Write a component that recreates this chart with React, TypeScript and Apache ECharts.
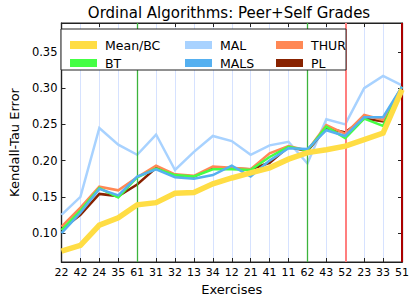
import React, { useEffect, useRef } from "react";
import * as echarts from "echarts";

const categories = ["22","42","24","35","61","31","32","13","34","12","21","41","11","62","43","52","23","33","51"];
const meanBC = [0.075,0.083,0.111,0.121,0.139,0.142,0.155,0.156,0.168,0.176,0.183,0.190,0.202,0.211,0.215,0.220,0.229,0.238,0.298];
const bt = [0.104,0.131,0.162,0.149,0.177,0.189,0.180,0.178,0.188,0.188,0.187,0.205,0.219,0.214,0.247,0.231,0.258,0.248,0.302];
const mal = [0.125,0.150,0.245,0.222,0.208,0.236,0.187,0.212,0.234,0.227,0.208,0.221,0.226,0.196,0.257,0.250,0.300,0.317,0.304];
const mals = [0.100,0.128,0.161,0.152,0.178,0.188,0.177,0.175,0.180,0.193,0.178,0.200,0.217,0.216,0.242,0.234,0.260,0.260,0.302];
const thur = [0.109,0.135,0.164,0.159,0.177,0.193,0.181,0.179,0.192,0.190,0.188,0.210,0.220,0.214,0.249,0.237,0.263,0.256,0.302];
const pl = [0.105,0.125,0.154,0.151,0.167,0.190,0.180,0.178,0.190,0.189,0.188,0.197,0.219,0.213,0.245,0.239,0.258,0.254,0.302];
const markers = [
  { x: "61", color: "#3cb43c", width: 1.3 },
  { x: "62", color: "#3cb43c", width: 1.3 },
  { x: "52", color: "#ff7f7f", width: 2 },
  { x: "51", color: "#aa0000", width: 2 },
];

const FONT = "DejaVu Sans";

export default function App() {
  const ref = useRef<HTMLDivElement>(null);
  useEffect(() => {
    document.body.style.margin = "0";
    const chart = echarts.init(ref.current!, undefined, { renderer: "svg" });
    const mk = (name: string, data: number[], color: string, width: number, z: number, extra: any = {}) => ({
      name, type: "line", data, color, symbol: "none", z,
      lineStyle: { color, width, join: "miter" }, ...extra,
    });
    const legendCommon = {
      orient: "vertical",
      icon: "rect",
      itemWidth: 27,
      itemHeight: 8,
      itemGap: 4,
      top: 33,
      z: 10,
      textStyle: { fontFamily: FONT, fontSize: 12.5, color: "#000", lineHeight: 14, padding: [0, 0, 0, 3] },
    };
    chart.setOption({
      animation: false,
      backgroundColor: "#fff",
      textStyle: { fontFamily: FONT },
      title: {
        text: "Ordinal Algorithms: Peer+Self Grades",
        left: 229, top: 5, padding: 0, textAlign: "center",
        textStyle: { fontFamily: FONT, fontSize: 15, fontWeight: "normal", color: "#000" },
      },
      grid: { left: 55, right: 14, top: 23, bottom: 40, show: true, borderColor: "#222", borderWidth: 1.2, backgroundColor: "transparent" },
      graphic: [
        { type: "rect", shape: { x: 61, y: 29, width: 285, height: 41 }, style: { fill: "#fff", stroke: "#222", lineWidth: 1 }, z: 9 },
      ],
      legend: [
        { ...legendCommon, left: 65, data: ["Mean/BC", "BT"] },
        { ...legendCommon, left: 180, data: ["MAL", "MALS"] },
        { ...legendCommon, left: 271, data: ["THUR", "PL"] },
      ],
      xAxis: [
        {
          type: "category", data: categories, boundaryGap: false,
          name: "Exercises", nameLocation: "middle", nameGap: 19,
          nameTextStyle: { fontFamily: FONT, fontSize: 13, color: "#000" },
          axisLine: { show: true, lineStyle: { color: "#222", width: 1.2 } },
          axisTick: { show: true, inside: true, length: 4, lineStyle: { color: "#222" } },
          axisLabel: { fontFamily: FONT, fontSize: 11, color: "#000", margin: 5, interval: 0 },
          splitLine: { show: true, lineStyle: { color: "#d6e2ff", width: 1 } },
        },
        {
          type: "category", data: categories, boundaryGap: false, position: "top",
          axisLine: { show: true, lineStyle: { color: "#222", width: 1.2 } },
          axisTick: { show: true, inside: true, length: 4, lineStyle: { color: "#222" } },
          axisLabel: { show: false }, splitLine: { show: false },
        },
      ],
      yAxis: [
        {
          type: "value", min: 0.06, max: 0.39, splitNumber: 7,
          name: "Kendall-Tau Error", nameLocation: "middle", nameGap: 36,
          nameTextStyle: { fontFamily: FONT, fontSize: 13, color: "#000" },
          axisLine: { show: true, lineStyle: { color: "#222", width: 1.2 } },
          axisTick: { show: true, inside: true, length: 4, lineStyle: { color: "#222" } },
          axisLabel: {
            fontFamily: FONT, fontSize: 11.5, color: "#000", margin: 4,
            showMinLabel: false, showMaxLabel: false,
            formatter: (v: number) => (Math.abs(v * 20 - Math.round(v * 20)) < 1e-6 ? v.toFixed(2) : ""),
          },
          splitLine: { show: false },
        },
        {
          type: "value", min: 0.06, max: 0.39, splitNumber: 7, position: "right",
          axisLine: { show: true, lineStyle: { color: "#222", width: 1.2 } },
          axisTick: { show: true, inside: true, length: 4, lineStyle: { color: "#222" } },
          axisLabel: { show: false }, splitLine: { show: false },
        },
      ],
      series: [
        mk("MAL", mal, "#a8d2ff", 2.5, 2, {
          markLine: {
            silent: true, symbol: ["none", "none"], label: { show: false },
            data: markers.map((m) => ({ xAxis: m.x, lineStyle: { color: m.color, width: m.width, type: "solid" } })),
          },
        }),
        mk("PL", pl, "#882200", 2.5, 3),
        mk("THUR", thur, "#ff8855", 2.5, 4),
        mk("BT", bt, "#44ff44", 2.5, 5),
        mk("MALS", mals, "#55b0f0", 2.5, 6),
        mk("Mean/BC", meanBC, "#ffdd44", 5.5, 7),
      ],
    });
    return () => chart.dispose();
  }, []);
  return <div ref={ref} style={{ width: 416, height: 302 }} />;
}
